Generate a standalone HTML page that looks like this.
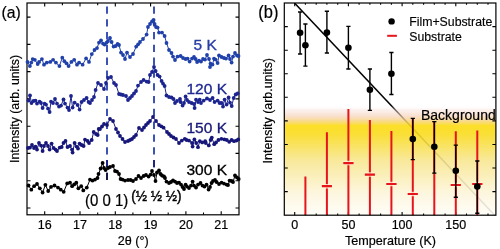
<!DOCTYPE html>
<html><head><meta charset="utf-8"><style>
html,body{margin:0;padding:0;background:#fff;width:500px;height:249px;overflow:hidden}
svg{display:block;will-change:transform;font-family:"Liberation Sans", sans-serif}
</style></head><body>
<svg width="500" height="249" viewBox="0 0 500 249">
<path d="M44.7 214.8 v-3.5 M44.7 3 v3.5 M80 214.8 v-3.5 M80 3 v3.5 M115.3 214.8 v-3.5 M115.3 3 v3.5 M150.6 214.8 v-3.5 M150.6 3 v3.5 M185.9 214.8 v-3.5 M185.9 3 v3.5 M221.2 214.8 v-3.5 M221.2 3 v3.5 M62.4 214.8 v-2.2 M62.4 3 v2.2 M97.7 214.8 v-2.2 M97.7 3 v2.2 M132.9 214.8 v-2.2 M132.9 3 v2.2 M168.2 214.8 v-2.2 M168.2 3 v2.2 M203.5 214.8 v-2.2 M203.5 3 v2.2 M27 17.1 h3.5 M239 17.1 h-3.5 M27 44.4 h3.5 M239 44.4 h-3.5 M27 71.6 h3.5 M239 71.6 h-3.5 M27 98.9 h3.5 M239 98.9 h-3.5 M27 126.2 h3.5 M239 126.2 h-3.5 M27 153.4 h3.5 M239 153.4 h-3.5 M27 180.7 h3.5 M239 180.7 h-3.5 M27 208 h3.5 M239 208 h-3.5" stroke="#000" stroke-width="1.1" fill="none"/>
<rect x="27" y="3" width="212" height="211.8" fill="none" stroke="#000" stroke-width="1.2"/>
<text x="44.7" y="229" font-size="12.5" text-anchor="middle" stroke="#000" stroke-width="0.2">16</text>
<text x="80" y="229" font-size="12.5" text-anchor="middle" stroke="#000" stroke-width="0.2">17</text>
<text x="115.3" y="229" font-size="12.5" text-anchor="middle" stroke="#000" stroke-width="0.2">18</text>
<text x="150.6" y="229" font-size="12.5" text-anchor="middle" stroke="#000" stroke-width="0.2">19</text>
<text x="185.9" y="229" font-size="12.5" text-anchor="middle" stroke="#000" stroke-width="0.2">20</text>
<text x="221.2" y="229" font-size="12.5" text-anchor="middle" stroke="#000" stroke-width="0.2">21</text>
<text x="133.2" y="245" font-size="12.6" text-anchor="middle" stroke="#000" stroke-width="0.2">2θ (°)</text>
<text transform="translate(19.4 109) rotate(-90)" font-size="12.3" text-anchor="middle" stroke="#000" stroke-width="0.2">Intensity (arb. units)</text>
<text transform="translate(1.5 17.7) scale(0.95 1.03)" font-size="16.6" stroke="#000" stroke-width="0.2">(a)</text>
<path d="M107 6.4 V180.2 M154 6.4 V167.4" stroke="#2842ae" stroke-width="1.8" stroke-dasharray="7.3 5.5" fill="none"/>
<path d="M107 160 V167.3 M154 160 V167.3" stroke="#1a2080" stroke-width="1.8" fill="none"/><path d="M107 172.8 V180.1" stroke="#151530" stroke-width="1.8" fill="none"/>
<path d="M27.5 62 L29.9 66.1 L31.3 62.6 L32.7 59.1 L34.8 59.8 L37.7 64 L39.1 61.9 L41.9 59.1 L44 64.7 L46.8 62.6 L50.3 61.9 L53.1 59.8 L55.9 62.6 L59.4 66.1 L62.3 57.7 L64.4 61.2 L66.5 63.3 L68.6 66.1 L71.4 61.9 L74.2 59.8 L77 64.7 L79.1 62.6 L82.6 64.7 L86.1 58.4 L89 61.9 L91.8 54.1 L94.5 50 L97 48.1 L99 42.6 L101 40.5 L103 43.6 L104.6 44.6 L106.6 42.6 L108 41 L110 38 L111.6 42 L113.6 46.6 L115.6 46 L117.6 44 L119 45 L121 52.6 L123 55 L125 59 L127 52.6 L130 57 L133 54 L136.2 46.6 L138.1 44.3 L140 42 L143 39 L146.6 34.6 L148 27 L150 24 L152 21.5 L153.6 20 L154.6 24 L156 27 L157.6 27.6 L159 32.6 L162 32.6 L164.6 36 L166.5 43 L169 50 L171.5 53 L173 56.6 L175 60 L177.5 56.6 L180.6 56 L183 58 L185.6 59 L187.6 58.6 L189.6 61.6 L192 58.6 L194 57 L195.6 59 L197.1 62 L199 60.6 L201 61.6 L203 59 L205 59.6 L207 55 L209 59 L210.5 63.6 L210 67 L212.5 64.6 L214 58.6 L215.6 59.6 L217.6 63 L219 55.5 L221.6 57 L224 58 L226 58.6 L228.6 55.5 L230 59 L231.6 62.6 L233 56.6 L235 53 L237 55.5 L238.5 56" fill="none" stroke="#2040aa" stroke-width="1.0"/><g fill="#2040aa"><circle cx="27.5" cy="62" r="1.9"/><circle cx="29.9" cy="66.1" r="1.9"/><circle cx="31.3" cy="62.6" r="1.9"/><circle cx="32.7" cy="59.1" r="1.9"/><circle cx="34.8" cy="59.8" r="1.9"/><circle cx="37.7" cy="64" r="1.9"/><circle cx="39.1" cy="61.9" r="1.9"/><circle cx="41.9" cy="59.1" r="1.9"/><circle cx="44" cy="64.7" r="1.9"/><circle cx="46.8" cy="62.6" r="1.9"/><circle cx="50.3" cy="61.9" r="1.9"/><circle cx="53.1" cy="59.8" r="1.9"/><circle cx="55.9" cy="62.6" r="1.9"/><circle cx="59.4" cy="66.1" r="1.9"/><circle cx="62.3" cy="57.7" r="1.9"/><circle cx="64.4" cy="61.2" r="1.9"/><circle cx="66.5" cy="63.3" r="1.9"/><circle cx="68.6" cy="66.1" r="1.9"/><circle cx="71.4" cy="61.9" r="1.9"/><circle cx="74.2" cy="59.8" r="1.9"/><circle cx="77" cy="64.7" r="1.9"/><circle cx="79.1" cy="62.6" r="1.9"/><circle cx="82.6" cy="64.7" r="1.9"/><circle cx="86.1" cy="58.4" r="1.9"/><circle cx="89" cy="61.9" r="1.9"/><circle cx="91.8" cy="54.1" r="1.9"/><circle cx="94.5" cy="50" r="1.9"/><circle cx="97" cy="48.1" r="1.9"/><circle cx="99" cy="42.6" r="1.9"/><circle cx="101" cy="40.5" r="1.9"/><circle cx="103" cy="43.6" r="1.9"/><circle cx="104.6" cy="44.6" r="1.9"/><circle cx="106.6" cy="42.6" r="1.9"/><circle cx="108" cy="41" r="1.9"/><circle cx="110" cy="38" r="1.9"/><circle cx="111.6" cy="42" r="1.9"/><circle cx="113.6" cy="46.6" r="1.9"/><circle cx="115.6" cy="46" r="1.9"/><circle cx="117.6" cy="44" r="1.9"/><circle cx="119" cy="45" r="1.9"/><circle cx="121" cy="52.6" r="1.9"/><circle cx="123" cy="55" r="1.9"/><circle cx="125" cy="59" r="1.9"/><circle cx="127" cy="52.6" r="1.9"/><circle cx="130" cy="57" r="1.9"/><circle cx="133" cy="54" r="1.9"/><circle cx="136.2" cy="46.6" r="1.9"/><circle cx="138.1" cy="44.3" r="1.9"/><circle cx="140" cy="42" r="1.9"/><circle cx="143" cy="39" r="1.9"/><circle cx="146.6" cy="34.6" r="1.9"/><circle cx="148" cy="27" r="1.9"/><circle cx="150" cy="24" r="1.9"/><circle cx="152" cy="21.5" r="1.9"/><circle cx="153.6" cy="20" r="1.9"/><circle cx="154.6" cy="24" r="1.9"/><circle cx="156" cy="27" r="1.9"/><circle cx="157.6" cy="27.6" r="1.9"/><circle cx="159" cy="32.6" r="1.9"/><circle cx="162" cy="32.6" r="1.9"/><circle cx="164.6" cy="36" r="1.9"/><circle cx="166.5" cy="43" r="1.9"/><circle cx="169" cy="50" r="1.9"/><circle cx="171.5" cy="53" r="1.9"/><circle cx="173" cy="56.6" r="1.9"/><circle cx="175" cy="60" r="1.9"/><circle cx="177.5" cy="56.6" r="1.9"/><circle cx="180.6" cy="56" r="1.9"/><circle cx="183" cy="58" r="1.9"/><circle cx="185.6" cy="59" r="1.9"/><circle cx="187.6" cy="58.6" r="1.9"/><circle cx="189.6" cy="61.6" r="1.9"/><circle cx="192" cy="58.6" r="1.9"/><circle cx="194" cy="57" r="1.9"/><circle cx="195.6" cy="59" r="1.9"/><circle cx="197.1" cy="62" r="1.9"/><circle cx="199" cy="60.6" r="1.9"/><circle cx="201" cy="61.6" r="1.9"/><circle cx="203" cy="59" r="1.9"/><circle cx="205" cy="59.6" r="1.9"/><circle cx="207" cy="55" r="1.9"/><circle cx="209" cy="59" r="1.9"/><circle cx="210.5" cy="63.6" r="1.9"/><circle cx="210" cy="67" r="1.9"/><circle cx="212.5" cy="64.6" r="1.9"/><circle cx="214" cy="58.6" r="1.9"/><circle cx="215.6" cy="59.6" r="1.9"/><circle cx="217.6" cy="63" r="1.9"/><circle cx="219" cy="55.5" r="1.9"/><circle cx="221.6" cy="57" r="1.9"/><circle cx="224" cy="58" r="1.9"/><circle cx="226" cy="58.6" r="1.9"/><circle cx="228.6" cy="55.5" r="1.9"/><circle cx="230" cy="59" r="1.9"/><circle cx="231.6" cy="62.6" r="1.9"/><circle cx="233" cy="56.6" r="1.9"/><circle cx="235" cy="53" r="1.9"/><circle cx="237" cy="55.5" r="1.9"/><circle cx="238.5" cy="56" r="1.9"/></g>
<path d="M28.5 100.6 L30 95.5 L31.5 103 L33.5 101 L35.5 100.6 L37 103.6 L39.6 101.6 L41 103 L42.6 108 L44.6 103.6 L46 104.6 L48 108.6 L49.6 112 L51 101.6 L53 103 L55 99 L57 103.6 L59 106.6 L61 105.6 L63.5 99.5 L65 103.6 L67.5 107.6 L69 110 L71 96 L72.6 107.6 L74.6 102.6 L77.6 105 L79.6 109.6 L81.6 102 L84 100 L86.6 98 L88.6 102 L90 103 L92 100 L94 97 L95.6 90 L98 83 L101 85 L104 89 L106 83 L108 78 L111 77 L114 83 L116 85 L119 94 L121 94.5 L123 95 L126 96 L128 100 L130 98 L132 96 L134 93.5 L136 91 L138 85.6 L141 82 L143.6 80 L146.6 81.6 L148.6 82 L150 75 L152 72 L154 67 L155.6 71 L157.6 75 L159.6 76.6 L161.6 81 L163 83.6 L164.6 86 L166.5 95.5 L169 97 L171.5 97.5 L173.5 99 L175 103 L177 101 L180 99 L180.6 102 L182.6 105.6 L184 103 L185.6 96.5 L187 100 L189 102 L191.6 103 L194 104 L194.6 108 L196 99.6 L198 102 L199.7 99.6 L201 103 L203.7 100.6 L207 98.5 L210 100 L212.6 98 L214.6 102 L217.6 100.6 L219.6 103 L221.6 103 L223 106.6 L224.6 99.6 L226.6 104.6 L228.6 97.5 L230 102.6 L231.7 106 L233.7 98 L235.7 94.5 L237.7 93.5" fill="none" stroke="#1c2490" stroke-width="1.0"/><g fill="#1c2490"><circle cx="28.5" cy="100.6" r="1.9"/><circle cx="30" cy="95.5" r="1.9"/><circle cx="31.5" cy="103" r="1.9"/><circle cx="33.5" cy="101" r="1.9"/><circle cx="35.5" cy="100.6" r="1.9"/><circle cx="37" cy="103.6" r="1.9"/><circle cx="39.6" cy="101.6" r="1.9"/><circle cx="41" cy="103" r="1.9"/><circle cx="42.6" cy="108" r="1.9"/><circle cx="44.6" cy="103.6" r="1.9"/><circle cx="46" cy="104.6" r="1.9"/><circle cx="48" cy="108.6" r="1.9"/><circle cx="49.6" cy="112" r="1.9"/><circle cx="51" cy="101.6" r="1.9"/><circle cx="53" cy="103" r="1.9"/><circle cx="55" cy="99" r="1.9"/><circle cx="57" cy="103.6" r="1.9"/><circle cx="59" cy="106.6" r="1.9"/><circle cx="61" cy="105.6" r="1.9"/><circle cx="63.5" cy="99.5" r="1.9"/><circle cx="65" cy="103.6" r="1.9"/><circle cx="67.5" cy="107.6" r="1.9"/><circle cx="69" cy="110" r="1.9"/><circle cx="71" cy="96" r="1.9"/><circle cx="72.6" cy="107.6" r="1.9"/><circle cx="74.6" cy="102.6" r="1.9"/><circle cx="77.6" cy="105" r="1.9"/><circle cx="79.6" cy="109.6" r="1.9"/><circle cx="81.6" cy="102" r="1.9"/><circle cx="84" cy="100" r="1.9"/><circle cx="86.6" cy="98" r="1.9"/><circle cx="88.6" cy="102" r="1.9"/><circle cx="90" cy="103" r="1.9"/><circle cx="92" cy="100" r="1.9"/><circle cx="94" cy="97" r="1.9"/><circle cx="95.6" cy="90" r="1.9"/><circle cx="98" cy="83" r="1.9"/><circle cx="101" cy="85" r="1.9"/><circle cx="104" cy="89" r="1.9"/><circle cx="106" cy="83" r="1.9"/><circle cx="108" cy="78" r="1.9"/><circle cx="111" cy="77" r="1.9"/><circle cx="114" cy="83" r="1.9"/><circle cx="116" cy="85" r="1.9"/><circle cx="119" cy="94" r="1.9"/><circle cx="121" cy="94.5" r="1.9"/><circle cx="123" cy="95" r="1.9"/><circle cx="126" cy="96" r="1.9"/><circle cx="128" cy="100" r="1.9"/><circle cx="130" cy="98" r="1.9"/><circle cx="132" cy="96" r="1.9"/><circle cx="134" cy="93.5" r="1.9"/><circle cx="136" cy="91" r="1.9"/><circle cx="138" cy="85.6" r="1.9"/><circle cx="141" cy="82" r="1.9"/><circle cx="143.6" cy="80" r="1.9"/><circle cx="146.6" cy="81.6" r="1.9"/><circle cx="148.6" cy="82" r="1.9"/><circle cx="150" cy="75" r="1.9"/><circle cx="152" cy="72" r="1.9"/><circle cx="154" cy="67" r="1.9"/><circle cx="155.6" cy="71" r="1.9"/><circle cx="157.6" cy="75" r="1.9"/><circle cx="159.6" cy="76.6" r="1.9"/><circle cx="161.6" cy="81" r="1.9"/><circle cx="163" cy="83.6" r="1.9"/><circle cx="164.6" cy="86" r="1.9"/><circle cx="166.5" cy="95.5" r="1.9"/><circle cx="169" cy="97" r="1.9"/><circle cx="171.5" cy="97.5" r="1.9"/><circle cx="173.5" cy="99" r="1.9"/><circle cx="175" cy="103" r="1.9"/><circle cx="177" cy="101" r="1.9"/><circle cx="180" cy="99" r="1.9"/><circle cx="180.6" cy="102" r="1.9"/><circle cx="182.6" cy="105.6" r="1.9"/><circle cx="184" cy="103" r="1.9"/><circle cx="185.6" cy="96.5" r="1.9"/><circle cx="187" cy="100" r="1.9"/><circle cx="189" cy="102" r="1.9"/><circle cx="191.6" cy="103" r="1.9"/><circle cx="194" cy="104" r="1.9"/><circle cx="194.6" cy="108" r="1.9"/><circle cx="196" cy="99.6" r="1.9"/><circle cx="198" cy="102" r="1.9"/><circle cx="199.7" cy="99.6" r="1.9"/><circle cx="201" cy="103" r="1.9"/><circle cx="203.7" cy="100.6" r="1.9"/><circle cx="207" cy="98.5" r="1.9"/><circle cx="210" cy="100" r="1.9"/><circle cx="212.6" cy="98" r="1.9"/><circle cx="214.6" cy="102" r="1.9"/><circle cx="217.6" cy="100.6" r="1.9"/><circle cx="219.6" cy="103" r="1.9"/><circle cx="221.6" cy="103" r="1.9"/><circle cx="223" cy="106.6" r="1.9"/><circle cx="224.6" cy="99.6" r="1.9"/><circle cx="226.6" cy="104.6" r="1.9"/><circle cx="228.6" cy="97.5" r="1.9"/><circle cx="230" cy="102.6" r="1.9"/><circle cx="231.7" cy="106" r="1.9"/><circle cx="233.7" cy="98" r="1.9"/><circle cx="235.7" cy="94.5" r="1.9"/><circle cx="237.7" cy="93.5" r="1.9"/></g>
<path d="M28 148 L30 147.6 L32 145 L34 148 L35.5 146.6 L37 149.6 L39 143 L41 145.6 L42.6 151 L44 146 L46 143 L48 146 L49.6 149.6 L51.6 143.6 L53.6 148 L55.6 149.6 L57 151 L59.7 147.6 L61.7 147 L63.5 143 L65.5 141 L67.5 147 L70 146 L72 149.6 L72.6 152.6 L74.6 143 L76.6 146.6 L78 148.6 L79.6 143.6 L81.6 145 L83.6 146 L85 139.6 L87.6 141 L89 143 L91.7 140 L93.7 132 L96 134 L97.7 135 L98.7 129 L100 129 L102 126.5 L104 124 L107 125 L110 119 L113 121 L116 129 L118 132.5 L120 136 L122.5 139 L125 142 L128 141 L130 140 L132 139 L134 137 L136 135 L139 128 L142 130 L144 127.5 L146 125 L148 123 L150 121 L153 117 L156 121 L159 125 L161.3 126.3 L163.6 127.7 L167 132 L169 134 L171 136 L173.5 137.5 L176 139 L179 143 L181.8 140.6 L184.8 138.8 L186.6 140 L189 140.6 L192 143 L192.6 146.6 L194.4 139.4 L196.2 143 L198 147.2 L199.8 141.2 L202.2 142.4 L205.2 141.2 L205.8 143 L208.8 145.4 L210.6 140 L211.8 137.6 L214.2 144.2 L216 142.4 L218.4 140 L221.4 138.8 L224.4 139.4 L226.8 140 L229.2 141.8 L231.6 140 L234 141.2 L236.4 140.6 L238.2 139.4" fill="none" stroke="#16167a" stroke-width="1.0"/><g fill="#16167a"><circle cx="28" cy="148" r="1.9"/><circle cx="30" cy="147.6" r="1.9"/><circle cx="32" cy="145" r="1.9"/><circle cx="34" cy="148" r="1.9"/><circle cx="35.5" cy="146.6" r="1.9"/><circle cx="37" cy="149.6" r="1.9"/><circle cx="39" cy="143" r="1.9"/><circle cx="41" cy="145.6" r="1.9"/><circle cx="42.6" cy="151" r="1.9"/><circle cx="44" cy="146" r="1.9"/><circle cx="46" cy="143" r="1.9"/><circle cx="48" cy="146" r="1.9"/><circle cx="49.6" cy="149.6" r="1.9"/><circle cx="51.6" cy="143.6" r="1.9"/><circle cx="53.6" cy="148" r="1.9"/><circle cx="55.6" cy="149.6" r="1.9"/><circle cx="57" cy="151" r="1.9"/><circle cx="59.7" cy="147.6" r="1.9"/><circle cx="61.7" cy="147" r="1.9"/><circle cx="63.5" cy="143" r="1.9"/><circle cx="65.5" cy="141" r="1.9"/><circle cx="67.5" cy="147" r="1.9"/><circle cx="70" cy="146" r="1.9"/><circle cx="72" cy="149.6" r="1.9"/><circle cx="72.6" cy="152.6" r="1.9"/><circle cx="74.6" cy="143" r="1.9"/><circle cx="76.6" cy="146.6" r="1.9"/><circle cx="78" cy="148.6" r="1.9"/><circle cx="79.6" cy="143.6" r="1.9"/><circle cx="81.6" cy="145" r="1.9"/><circle cx="83.6" cy="146" r="1.9"/><circle cx="85" cy="139.6" r="1.9"/><circle cx="87.6" cy="141" r="1.9"/><circle cx="89" cy="143" r="1.9"/><circle cx="91.7" cy="140" r="1.9"/><circle cx="93.7" cy="132" r="1.9"/><circle cx="96" cy="134" r="1.9"/><circle cx="97.7" cy="135" r="1.9"/><circle cx="98.7" cy="129" r="1.9"/><circle cx="100" cy="129" r="1.9"/><circle cx="102" cy="126.5" r="1.9"/><circle cx="104" cy="124" r="1.9"/><circle cx="107" cy="125" r="1.9"/><circle cx="110" cy="119" r="1.9"/><circle cx="113" cy="121" r="1.9"/><circle cx="116" cy="129" r="1.9"/><circle cx="118" cy="132.5" r="1.9"/><circle cx="120" cy="136" r="1.9"/><circle cx="122.5" cy="139" r="1.9"/><circle cx="125" cy="142" r="1.9"/><circle cx="128" cy="141" r="1.9"/><circle cx="130" cy="140" r="1.9"/><circle cx="132" cy="139" r="1.9"/><circle cx="134" cy="137" r="1.9"/><circle cx="136" cy="135" r="1.9"/><circle cx="139" cy="128" r="1.9"/><circle cx="142" cy="130" r="1.9"/><circle cx="144" cy="127.5" r="1.9"/><circle cx="146" cy="125" r="1.9"/><circle cx="148" cy="123" r="1.9"/><circle cx="150" cy="121" r="1.9"/><circle cx="153" cy="117" r="1.9"/><circle cx="156" cy="121" r="1.9"/><circle cx="159" cy="125" r="1.9"/><circle cx="161.3" cy="126.3" r="1.9"/><circle cx="163.6" cy="127.7" r="1.9"/><circle cx="167" cy="132" r="1.9"/><circle cx="169" cy="134" r="1.9"/><circle cx="171" cy="136" r="1.9"/><circle cx="173.5" cy="137.5" r="1.9"/><circle cx="176" cy="139" r="1.9"/><circle cx="179" cy="143" r="1.9"/><circle cx="181.8" cy="140.6" r="1.9"/><circle cx="184.8" cy="138.8" r="1.9"/><circle cx="186.6" cy="140" r="1.9"/><circle cx="189" cy="140.6" r="1.9"/><circle cx="192" cy="143" r="1.9"/><circle cx="192.6" cy="146.6" r="1.9"/><circle cx="194.4" cy="139.4" r="1.9"/><circle cx="196.2" cy="143" r="1.9"/><circle cx="198" cy="147.2" r="1.9"/><circle cx="199.8" cy="141.2" r="1.9"/><circle cx="202.2" cy="142.4" r="1.9"/><circle cx="205.2" cy="141.2" r="1.9"/><circle cx="205.8" cy="143" r="1.9"/><circle cx="208.8" cy="145.4" r="1.9"/><circle cx="210.6" cy="140" r="1.9"/><circle cx="211.8" cy="137.6" r="1.9"/><circle cx="214.2" cy="144.2" r="1.9"/><circle cx="216" cy="142.4" r="1.9"/><circle cx="218.4" cy="140" r="1.9"/><circle cx="221.4" cy="138.8" r="1.9"/><circle cx="224.4" cy="139.4" r="1.9"/><circle cx="226.8" cy="140" r="1.9"/><circle cx="229.2" cy="141.8" r="1.9"/><circle cx="231.6" cy="140" r="1.9"/><circle cx="234" cy="141.2" r="1.9"/><circle cx="236.4" cy="140.6" r="1.9"/><circle cx="238.2" cy="139.4" r="1.9"/></g>
<path d="M28.5 185.5 L31.3 189.7 L34.1 186.2 L37 184 L39.8 188.3 L42.6 192.5 L45.4 184.8 L48.2 191 L51 186.9 L54.5 185.5 L58 187.6 L60.8 189.7 L63.7 191.8 L67.2 183.4 L70 182.7 L72.1 186.2 L74.2 184.4 L76.3 182.7 L78.4 188.3 L81.2 186.2 L83.3 190.4 L86.8 187.6 L90 179.6 L92.5 180.6 L95 179.6 L97.5 178 L98.5 174 L100.6 168.5 L102.6 163 L104 168 L105.6 170 L108 168 L110 167 L113 166 L115 171 L117 171.6 L119 174 L120.6 179 L122.6 179.6 L125 180.6 L128 180 L130.6 180 L133 181 L136 179 L138.5 176 L141 178 L143.6 176 L146 175 L148.6 176.6 L150.6 174.6 L152 171 L154 175 L155.5 181 L157 172.5 L159 170.5 L160.5 174 L162 175.5 L164 176.5 L165 178 L166.5 181.6 L169 183 L171 182 L173 180.5 L175 181.6 L177 183 L179 182.6 L181 184.6 L182.6 187 L184 189 L185.6 184.6 L187 186.6 L189 188 L191 185.6 L192.6 181.6 L194 185.6 L196 187.5 L198 184.6 L200.5 183 L202.5 185.6 L204.5 186.6 L206.5 184.6 L208.6 189.6 L210 187 L211.6 183 L213 181 L215 180 L216.6 182 L219 184 L221.6 182.6 L224 183.6 L226.6 184.6 L228 185 L229.6 180.6 L231.6 181 L233 182 L235 175.5 L237 177.5 L238.7 179" fill="none" stroke="#000000" stroke-width="1.0"/><g fill="#000000"><circle cx="28.5" cy="185.5" r="1.9"/><circle cx="31.3" cy="189.7" r="1.9"/><circle cx="34.1" cy="186.2" r="1.9"/><circle cx="37" cy="184" r="1.9"/><circle cx="39.8" cy="188.3" r="1.9"/><circle cx="42.6" cy="192.5" r="1.9"/><circle cx="45.4" cy="184.8" r="1.9"/><circle cx="48.2" cy="191" r="1.9"/><circle cx="51" cy="186.9" r="1.9"/><circle cx="54.5" cy="185.5" r="1.9"/><circle cx="58" cy="187.6" r="1.9"/><circle cx="60.8" cy="189.7" r="1.9"/><circle cx="63.7" cy="191.8" r="1.9"/><circle cx="67.2" cy="183.4" r="1.9"/><circle cx="70" cy="182.7" r="1.9"/><circle cx="72.1" cy="186.2" r="1.9"/><circle cx="74.2" cy="184.4" r="1.9"/><circle cx="76.3" cy="182.7" r="1.9"/><circle cx="78.4" cy="188.3" r="1.9"/><circle cx="81.2" cy="186.2" r="1.9"/><circle cx="83.3" cy="190.4" r="1.9"/><circle cx="86.8" cy="187.6" r="1.9"/><circle cx="90" cy="179.6" r="1.9"/><circle cx="92.5" cy="180.6" r="1.9"/><circle cx="95" cy="179.6" r="1.9"/><circle cx="97.5" cy="178" r="1.9"/><circle cx="98.5" cy="174" r="1.9"/><circle cx="100.6" cy="168.5" r="1.9"/><circle cx="102.6" cy="163" r="1.9"/><circle cx="104" cy="168" r="1.9"/><circle cx="105.6" cy="170" r="1.9"/><circle cx="108" cy="168" r="1.9"/><circle cx="110" cy="167" r="1.9"/><circle cx="113" cy="166" r="1.9"/><circle cx="115" cy="171" r="1.9"/><circle cx="117" cy="171.6" r="1.9"/><circle cx="119" cy="174" r="1.9"/><circle cx="120.6" cy="179" r="1.9"/><circle cx="122.6" cy="179.6" r="1.9"/><circle cx="125" cy="180.6" r="1.9"/><circle cx="128" cy="180" r="1.9"/><circle cx="130.6" cy="180" r="1.9"/><circle cx="133" cy="181" r="1.9"/><circle cx="136" cy="179" r="1.9"/><circle cx="138.5" cy="176" r="1.9"/><circle cx="141" cy="178" r="1.9"/><circle cx="143.6" cy="176" r="1.9"/><circle cx="146" cy="175" r="1.9"/><circle cx="148.6" cy="176.6" r="1.9"/><circle cx="150.6" cy="174.6" r="1.9"/><circle cx="152" cy="171" r="1.9"/><circle cx="154" cy="175" r="1.9"/><circle cx="155.5" cy="181" r="1.9"/><circle cx="157" cy="172.5" r="1.9"/><circle cx="159" cy="170.5" r="1.9"/><circle cx="160.5" cy="174" r="1.9"/><circle cx="162" cy="175.5" r="1.9"/><circle cx="164" cy="176.5" r="1.9"/><circle cx="165" cy="178" r="1.9"/><circle cx="166.5" cy="181.6" r="1.9"/><circle cx="169" cy="183" r="1.9"/><circle cx="171" cy="182" r="1.9"/><circle cx="173" cy="180.5" r="1.9"/><circle cx="175" cy="181.6" r="1.9"/><circle cx="177" cy="183" r="1.9"/><circle cx="179" cy="182.6" r="1.9"/><circle cx="181" cy="184.6" r="1.9"/><circle cx="182.6" cy="187" r="1.9"/><circle cx="184" cy="189" r="1.9"/><circle cx="185.6" cy="184.6" r="1.9"/><circle cx="187" cy="186.6" r="1.9"/><circle cx="189" cy="188" r="1.9"/><circle cx="191" cy="185.6" r="1.9"/><circle cx="192.6" cy="181.6" r="1.9"/><circle cx="194" cy="185.6" r="1.9"/><circle cx="196" cy="187.5" r="1.9"/><circle cx="198" cy="184.6" r="1.9"/><circle cx="200.5" cy="183" r="1.9"/><circle cx="202.5" cy="185.6" r="1.9"/><circle cx="204.5" cy="186.6" r="1.9"/><circle cx="206.5" cy="184.6" r="1.9"/><circle cx="208.6" cy="189.6" r="1.9"/><circle cx="210" cy="187" r="1.9"/><circle cx="211.6" cy="183" r="1.9"/><circle cx="213" cy="181" r="1.9"/><circle cx="215" cy="180" r="1.9"/><circle cx="216.6" cy="182" r="1.9"/><circle cx="219" cy="184" r="1.9"/><circle cx="221.6" cy="182.6" r="1.9"/><circle cx="224" cy="183.6" r="1.9"/><circle cx="226.6" cy="184.6" r="1.9"/><circle cx="228" cy="185" r="1.9"/><circle cx="229.6" cy="180.6" r="1.9"/><circle cx="231.6" cy="181" r="1.9"/><circle cx="233" cy="182" r="1.9"/><circle cx="235" cy="175.5" r="1.9"/><circle cx="237" cy="177.5" r="1.9"/><circle cx="238.7" cy="179" r="1.9"/></g>
<text x="193.5" y="50.2" font-size="15.5" fill="#2a3ea6" stroke-width="0.35" stroke="#2a3ea6">5 K</text>
<text x="186.5" y="93.8" font-size="15.5" fill="#1e2890" stroke-width="0.35" stroke="#1e2890">120 K</text>
<text x="186.5" y="133.2" font-size="15.5" fill="#1a1a78" stroke-width="0.35" stroke="#1a1a78">150 K</text>
<text x="186.5" y="175" font-size="15.5" fill="#000" stroke-width="0.35" stroke="#000">300 K</text>
<text transform="translate(85 206) scale(1 1.1)" font-size="15" stroke="#000" stroke-width="0.2">(0 0 1)</text>
<text transform="translate(131.3 201.2) scale(0.87 1)" font-size="15.5" stroke-width="0.45" stroke="#000">(½ ½ ½)</text>
<defs><linearGradient id="bg" x1="0" y1="0" x2="0" y2="1"><stop offset="0" stop-color="#ffffff" stop-opacity="0"/><stop offset="0.04" stop-color="#f8e0d8" stop-opacity="0.45"/><stop offset="0.095" stop-color="#f6d2b8" stop-opacity="0.68"/><stop offset="0.145" stop-color="#f8d470" stop-opacity="0.85"/><stop offset="0.185" stop-color="#fcdc10" stop-opacity="0.9"/><stop offset="0.26" stop-color="#fadc20" stop-opacity="0.9"/><stop offset="0.5" stop-color="#f8e790" stop-opacity="0.9"/><stop offset="0.8" stop-color="#fdf6dc" stop-opacity="0.9"/><stop offset="1" stop-color="#fffef8" stop-opacity="0.9"/></linearGradient><clipPath id="cb"><rect x="284.3" y="3" width="211.6" height="212.2"/></clipPath></defs>
<g clip-path="url(#cb)"><path d="M294.5 3 L495.5 216.1" stroke="#000" stroke-width="1.5"/></g>
<rect x="284.3" y="105.5" width="211.6" height="109.7" fill="url(#bg)"/>
<path d="M294.7 215.2 v-3.2 M294.7 3 v3.2 M305.4 215.2 v-1.8 M305.4 3 v1.8 M316.2 215.2 v-1.8 M316.2 3 v1.8 M326.9 215.2 v-1.8 M326.9 3 v1.8 M337.7 215.2 v-1.8 M337.7 3 v1.8 M348.4 215.2 v-3.2 M348.4 3 v3.2 M359.1 215.2 v-1.8 M359.1 3 v1.8 M369.9 215.2 v-1.8 M369.9 3 v1.8 M380.6 215.2 v-1.8 M380.6 3 v1.8 M391.4 215.2 v-1.8 M391.4 3 v1.8 M402.1 215.2 v-3.2 M402.1 3 v3.2 M412.8 215.2 v-1.8 M412.8 3 v1.8 M423.6 215.2 v-1.8 M423.6 3 v1.8 M434.3 215.2 v-1.8 M434.3 3 v1.8 M445.1 215.2 v-1.8 M445.1 3 v1.8 M455.8 215.2 v-3.2 M455.8 3 v3.2 M466.5 215.2 v-1.8 M466.5 3 v1.8 M477.3 215.2 v-1.8 M477.3 3 v1.8 M488 215.2 v-1.8 M488 3 v1.8 M284.3 26.6 h3.5 M495.9 26.6 h-3.5 M284.3 50.2 h3.5 M495.9 50.2 h-3.5 M284.3 73.7 h3.5 M495.9 73.7 h-3.5 M284.3 97.3 h3.5 M495.9 97.3 h-3.5 M284.3 120.9 h3.5 M495.9 120.9 h-3.5 M284.3 144.5 h3.5 M495.9 144.5 h-3.5 M284.3 168 h3.5 M495.9 168 h-3.5 M284.3 191.6 h3.5 M495.9 191.6 h-3.5" stroke="#000" stroke-width="1.1" fill="none"/>
<text x="294.7" y="229.3" font-size="12.5" text-anchor="middle" stroke="#000" stroke-width="0.2">0</text>
<text x="348.4" y="229.3" font-size="12.5" text-anchor="middle" stroke="#000" stroke-width="0.2">50</text>
<text x="402.1" y="229.3" font-size="12.5" text-anchor="middle" stroke="#000" stroke-width="0.2">100</text>
<text x="455.8" y="229.3" font-size="12.5" text-anchor="middle" stroke="#000" stroke-width="0.2">150</text>
<text x="390.5" y="245" font-size="12.6" text-anchor="middle" stroke="#000" stroke-width="0.2">Temperature (K)</text>
<text transform="translate(271.5 110.7) rotate(-90)" font-size="12.4" text-anchor="middle" stroke="#000" stroke-width="0.2">Intensity (arb.units)</text>
<text transform="translate(258.3 17.7) scale(0.97 1.03)" font-size="17" stroke="#000" stroke-width="0.2">(b)</text>
<text x="421" y="120" font-size="14" stroke="#000" stroke-width="0.2">Background</text>
<g clip-path="url(#cb)"><path d="M305.4 176.6 V215.2 M326.9 132.2 V215.2 M321.9 186.2 h10 M348.4 109 V215.2 M343.4 163.1 h10 M369.9 120 V215.2 M364.9 174.6 h10 M391.4 131.1 V215.2 M386.4 184 h10 M412.8 118.5 V215.2 M407.8 194 h10 M434.3 121.5 V215.2 M455.8 131.2 V215.2 M450.8 185 h10 M477.3 130.5 V215.2 M472.3 184 h10" stroke="#e8141c" stroke-width="2" fill="none"/><path d="M321.9 186.2 h10 M343.4 163.1 h10 M364.9 174.6 h10 M386.4 184 h10 M407.8 194 h10 M450.8 185 h10 M472.3 184 h10" stroke="#fff6d8" stroke-opacity="0.8" stroke-width="4.5" fill="none"/><path d="M321.9 186.2 h10 M343.4 163.1 h10 M364.9 174.6 h10 M386.4 184 h10 M407.8 194 h10 M450.8 185 h10 M472.3 184 h10" stroke="#e8141c" stroke-width="2.2" fill="none"/></g>
<path d="M300.1 12 V54 M298 12 h4.2 M298 54 h4.2 M305.4 24 V66.1 M303.3 24 h4.2 M303.3 66.1 h4.2 M326.9 11.2 V53 M324.8 11.2 h4.2 M324.8 53 h4.2 M348.4 26.4 V69 M346.3 26.4 h4.2 M346.3 69 h4.2 M369.9 69 V110.4 M367.8 69 h4.2 M367.8 110.4 h4.2 M391.4 52.5 V94.5 M389.3 52.5 h4.2 M389.3 94.5 h4.2 M412.8 118.4 V159.6 M410.7 118.4 h4.2 M410.7 159.6 h4.2 M434.3 121.6 V173.1 M432.2 121.6 h4.2 M432.2 173.1 h4.2 M455.8 145.1 V197.2 M453.7 145.1 h4.2 M453.7 197.2 h4.2 M477.3 161 V213.2 M475.2 161 h4.2 M475.2 213.2 h4.2" stroke="#000" stroke-width="1.4" fill="none"/>
<g fill="#000"><circle cx="300.1" cy="32.8" r="3.3"/><circle cx="305.4" cy="45.2" r="3.3"/><circle cx="326.9" cy="32.6" r="3.3"/><circle cx="348.4" cy="47.8" r="3.3"/><circle cx="369.9" cy="89.7" r="3.3"/><circle cx="391.4" cy="73.7" r="3.3"/><circle cx="412.8" cy="139.1" r="3.3"/><circle cx="434.3" cy="146.7" r="3.3"/><circle cx="455.8" cy="170.7" r="3.3"/><circle cx="477.3" cy="186.5" r="3.3"/></g>
<circle cx="391.6" cy="21.4" r="3.2"/>
<text x="409.2" y="25.9" font-size="12.3" stroke-width="0.15" stroke="#000">Film+Substrate</text>
<path d="M387.2 35.8 h9.7" stroke="#e8141c" stroke-width="2"/>
<text x="409.2" y="40.6" font-size="12.3" stroke-width="0.15" stroke="#000">Substrate</text>
<rect x="284.3" y="3" width="211.6" height="212.2" fill="none" stroke="#000" stroke-width="1.2"/>
</svg>
</body></html>
